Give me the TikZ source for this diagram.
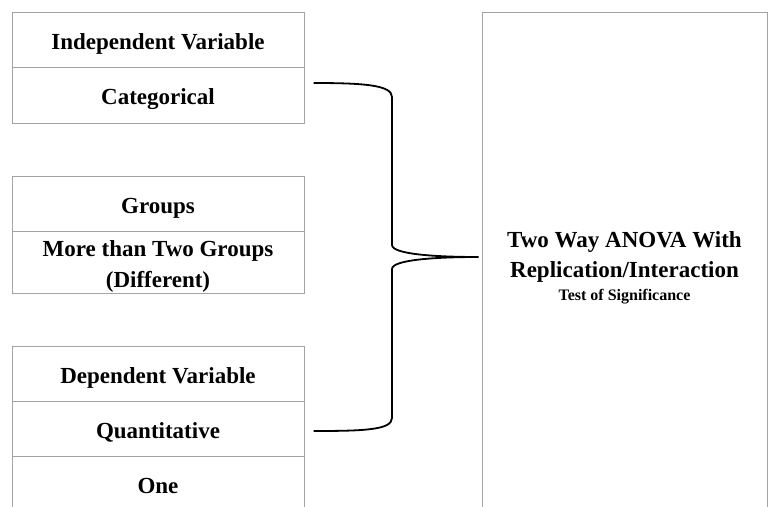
\documentclass[tikz,border=0pt]{standalone}
\usepackage{fontspec}
\setmainfont{Liberation Serif}
\begin{document}
\begin{tikzpicture}[x=1pt,y=-1pt,
  frame/.style={draw=framegray, line width=1pt, rectangle, inner sep=0pt},
  cell/.style={frame, minimum width=292pt},
  celltext/.style={align=center, inner sep=0pt, font=\fontsize{23}{31}\selectfont\bfseries},
  bracepath/.style={draw=black, line width=1.8pt}]
\definecolor{framegray}{HTML}{A3A3A3}
\clip (0,0) rectangle (768,506);
\fill[white] (0,0) rectangle (768,506);

% left column: three stacked tables
\node[cell, minimum height=55pt] (iv)    at (158,39.5)  {};
\node[cell, minimum height=56pt] (cat)   at (158,95)    {};
\node[cell, minimum height=55pt] (grp)   at (158,203.5) {};
\node[cell, minimum height=62pt] (more)  at (158,262)   {};
\node[cell, minimum height=55pt] (dv)    at (158,373.5) {};
\node[cell, minimum height=55pt] (quant) at (158,428.5) {};
\node[cell, minimum height=56pt] (one)   at (158,484)   {};

\node[celltext] (ivt)    at ([yshift=-4pt]iv.center)      {Independent Variable};
\node[celltext] (catt)   at ([yshift=-4.5pt]cat.center)   {Categorical};
\node[celltext] (grpt)   at ([yshift=-4.5pt]grp.center)   {Groups};
\node[celltext] (moret)  at ([yshift=-4pt]more.center)    {More than Two Groups\\(Different)};
\node[celltext] (dvt)    at ([yshift=-4pt]dv.center)      {Dependent Variable};
\node[celltext] (quantt) at ([yshift=-4pt]quant.center)   {Quantitative};
\node[celltext] (onet)   at ([yshift=-1.5pt]one.center)   {One};

% right: result box, open at the bottom edge
\node[frame, minimum width=285pt, minimum height=500pt] (anova) at (624.5,262) {};
\node[align=center, inner sep=0pt, font=\bfseries] (anovat) at ([yshift=-5.5pt]anova.center)
  {\fontsize{23}{23}\selectfont Two Way ANOVA With\\[8pt]
   \fontsize{23}{23}\selectfont Replication/Interaction\\[6pt]
   \fontsize{16}{18}\selectfont Test of Significance};

% curly brace gathering the inputs
\coordinate (btop) at ([xshift=9pt]cat.east |- 0,83);
\coordinate (bbot) at ([xshift=9pt]quant.east |- 0,431);
\coordinate (tip)  at ([xshift=-3pt]anova.west |- 0,257);
\draw[bracepath] (btop) .. controls +(50,0) and +(0,-12) .. (392,97)
  -- (392,245) .. controls +(0,9) and +(-45,0) .. (tip)
  .. controls +(-45,0) and +(0,-9) .. (392,269)
  -- (392,418) .. controls +(0,12) and +(50,0) .. (bbot);
\end{tikzpicture}
\end{document}
